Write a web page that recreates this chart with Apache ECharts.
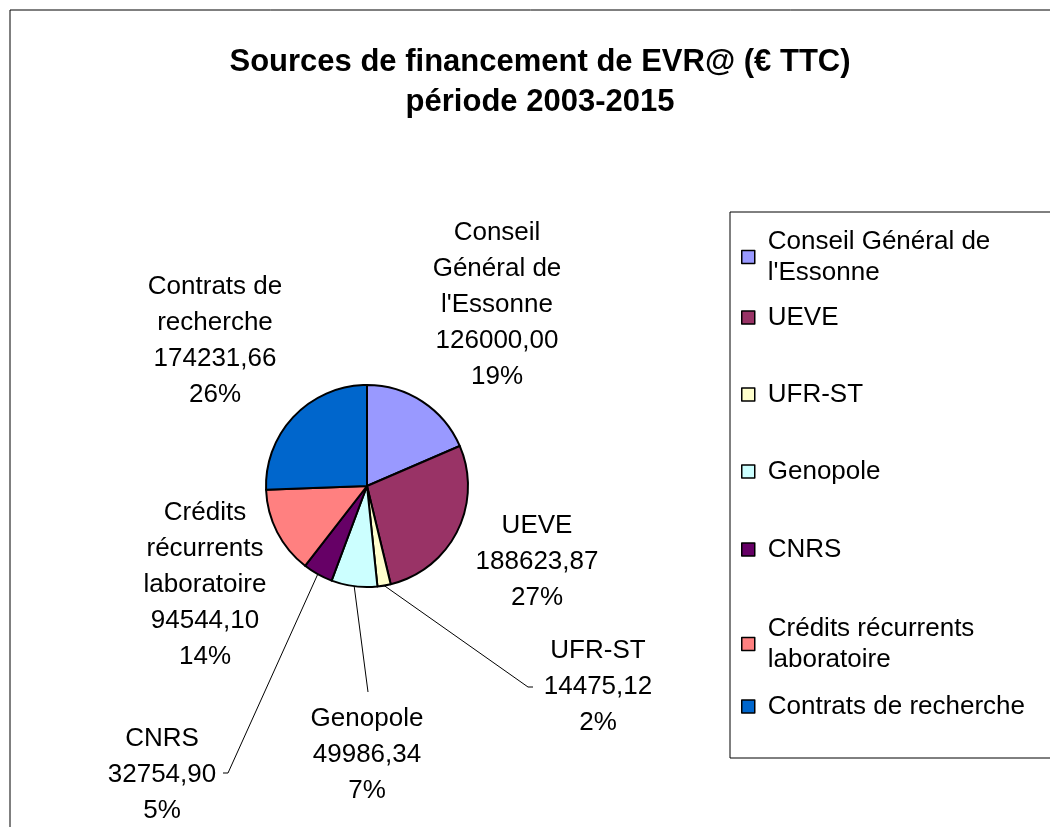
<!DOCTYPE html>
<html>
<head>
<meta charset="utf-8">
<script src="https://cdn.jsdelivr.net/npm/echarts@6/dist/echarts.min.js"></script>
<style>
  html, body { margin: 0; padding: 0; background: #fff; }
  #chart { width: 1050px; height: 827px; }
</style>
</head>
<body>
<div id="chart"></div>
<script>
// categories and values
const names = ["Conseil Général de l'Essonne", "UEVE", "UFR-ST", "Genopole", "CNRS", "Crédits récurrents laboratoire", "Contrats de recherche"];
const pieLabelNames = ["Conseil\nGénéral de\nl'Essonne", "UEVE", "UFR-ST", "Genopole", "CNRS", "Crédits\nrécurrents\nlaboratoire", "Contrats de\nrecherche"];
const legendNames = ["Conseil Général de\nl'Essonne", "UEVE", "UFR-ST", "Genopole", "CNRS", "Crédits récurrents\nlaboratoire", "Contrats de recherche"];
const values = [126000.00, 188623.87, 14475.12, 49986.34, 32754.90, 94544.10, 174231.66];
const percentLabels = ["19%", "27%", "2%", "7%", "5%", "14%", "26%"];
const colors = ["#9999FF", "#993366", "#FFFFCC", "#CCFFFF", "#660066", "#FF8080", "#0066CC"];

// where each outside label sits (centre of text block) and the bend of its leader line
const labelCenters = [[497, 305], [537, 562], [598, 687], [367, 755], [162, 775], [205, 585], [215, 341]];
const leaderBends = [null, null, [[528, 687], [533, 687]], [[368, 692], [368, 692]], [[228, 773], [223, 773]], null, null];
const legendTops = [226, 302, 379, 456, 534, 613, 691];

const font = "'Liberation Sans', Arial, sans-serif";

const chart = echarts.init(document.getElementById("chart"));

const legends = names.map((n, i) => ({
  orient: "vertical",
  left: 741,
  top: legendTops[i],
  padding: 0,
  data: [n],
  icon: "rect",
  itemWidth: 13,
  itemHeight: 13,
  itemGap: 0,
  itemStyle: { borderColor: "#000", borderWidth: 1.5 },
  formatter: () => legendNames[i],
  textStyle: { fontFamily: font, fontSize: 26, color: "#000", lineHeight: 31, padding: [0, 0, 0, 8] },
  selectedMode: false,
}));

const option = {
  animation: false,
  backgroundColor: "#fff",
  title: {
    text: "Sources de financement de EVR@ (€ TTC)\npériode 2003-2015",
    left: 540,
    textAlign: "center",
    top: 42,
    padding: 0,
    textStyle: { fontFamily: font, fontSize: 31, fontWeight: "bold", color: "#000", lineHeight: 40 },
  },
  legend: legends,
  graphic: [
    { type: "rect", shape: { x: 10, y: 10, width: 1100, height: 900 }, style: { fill: "none", stroke: "#000", lineWidth: 1 }, silent: true },
    { type: "rect", shape: { x: 730, y: 212, width: 400, height: 546 }, style: { fill: "none", stroke: "#000", lineWidth: 1 }, silent: true },
  ],
  series: [{
    type: "pie",
    center: [367, 486],
    radius: 101,
    startAngle: 90,
    clockwise: true,
    avoidLabelOverlap: false,
    itemStyle: { borderColor: "#000", borderWidth: 2 },
    emphasis: { disabled: true },
    label: {
      position: "outside",
      fontFamily: font,
      fontSize: 26,
      lineHeight: 36,
      color: "#000",
      align: "center",
      formatter: (p) => pieLabelNames[p.dataIndex] + "\n" + values[p.dataIndex].toFixed(2).replace(".", ",") + "\n" + percentLabels[p.dataIndex],
    },
    labelLine: { show: true, length: 8, length2: 8, lineStyle: { color: "#000", width: 1 } },
    labelLayout: (params) => {
      const i = params.dataIndex;
      const c = labelCenters[i];
      const res = { x: c[0], y: c[1], align: "center", verticalAlign: "middle" };
      if (leaderBends[i] && params.labelLinePoints) {
        res.labelLinePoints = [params.labelLinePoints[0], leaderBends[i][0], leaderBends[i][1]];
      }
      return res;
    },
    data: names.map((n, i) => ({
      name: n,
      value: values[i],
      itemStyle: { color: colors[i] },
      labelLine: { show: leaderBends[i] !== null },
    })),
  }],
};

chart.setOption(option);
</script>
</body>
</html>
